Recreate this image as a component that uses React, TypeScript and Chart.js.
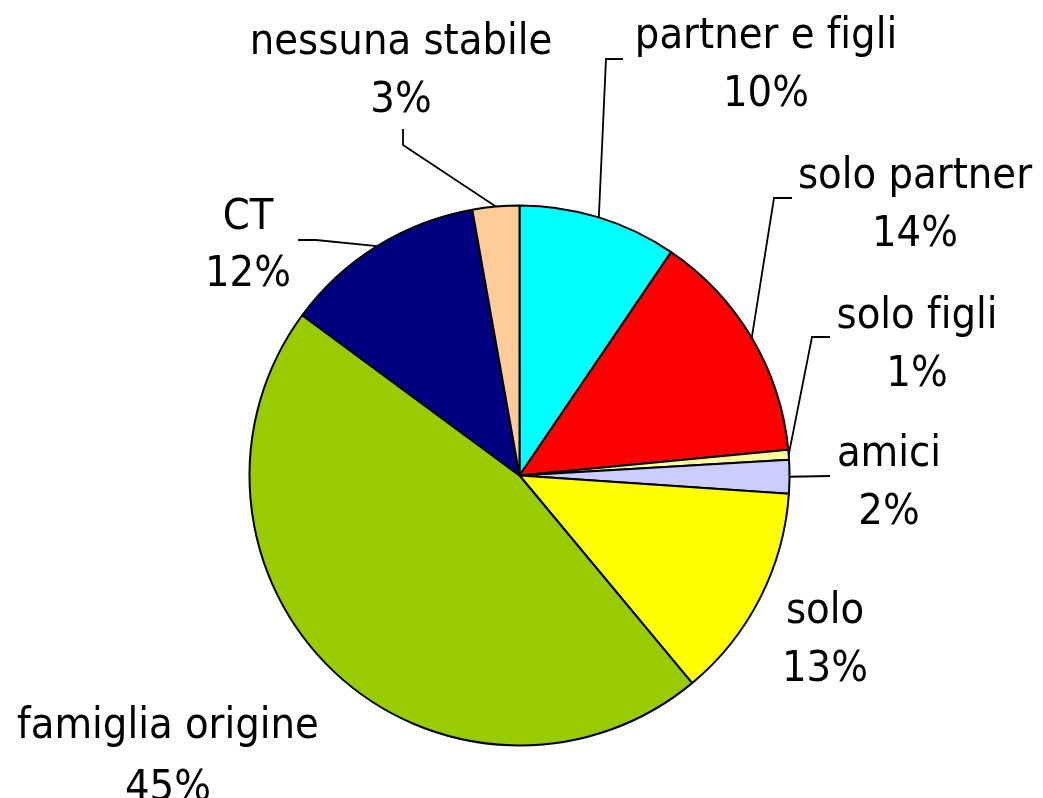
import React, { useEffect, useRef } from "react";
import { Chart, registerables } from "chart.js";

Chart.register(...registerables);

const categories = [
  "partner e figli",
  "solo partner",
  "solo figli",
  "amici",
  "solo",
  "famiglia origine",
  "CT",
  "nessuna stabile",
];
const shares = [9.5, 14.0, 0.6, 2.0, 12.9, 46.2, 12.1, 2.8];
const percentLabels = ["10%", "14%", "1%", "2%", "13%", "45%", "12%", "3%"];
const sliceColors = [
  "#00FFFF",
  "#FF0000",
  "#FFFF99",
  "#CCCCFF",
  "#FFFF00",
  "#99CC00",
  "#000080",
  "#FFCC99",
];

// label layout: centre x, first baseline, line gap, leader elbow points (towards slice)
const labelLayout: { x: number; y: number; gap: number; leader: number[][] | null }[] = [
  { x: 766, y: 48, gap: 58, leader: [[623, 59], [606, 59]] },
  { x: 915, y: 188, gap: 58, leader: [[792, 198], [774, 198]] },
  { x: 917, y: 328, gap: 58, leader: [[830, 337], [812, 337]] },
  { x: 889, y: 466, gap: 58, leader: [[830, 476]] },
  { x: 825, y: 623, gap: 58, leader: null },
  { x: 168, y: 738, gap: 62, leader: null },
  { x: 248, y: 229, gap: 57, leader: [[298, 240], [316, 240]] },
  { x: 401, y: 54, gap: 58, leader: [[403, 129], [403, 145]] },
];

const FONT = '43px "DejaVu Sans Condensed", "Liberation Sans", sans-serif';

const labelPlugin = {
  id: "outerLabels",
  afterDraw(chart: any) {
    const ctx = chart.ctx;
    const meta = chart.getDatasetMeta(0);
    ctx.save();
    meta.data.forEach((arc: any, i: number) => {
      const lay = labelLayout[i];
      const p = arc.getProps(["x", "y", "startAngle", "endAngle", "outerRadius"], true);
      const mid = (p.startAngle + p.endAngle) / 2;
      const ex = p.x + Math.cos(mid) * p.outerRadius;
      const ey = p.y + Math.sin(mid) * p.outerRadius;
      if (lay.leader) {
        ctx.beginPath();
        ctx.strokeStyle = "#000";
        ctx.lineWidth = 1.8;
        ctx.moveTo(lay.leader[0][0], lay.leader[0][1]);
        for (let k = 1; k < lay.leader.length; k++) ctx.lineTo(lay.leader[k][0], lay.leader[k][1]);
        ctx.lineTo(ex, ey);
        ctx.stroke();
      }
      ctx.fillStyle = "#000";
      ctx.font = FONT;
      ctx.textAlign = "center";
      ctx.textBaseline = "alphabetic";
      // zero-width non-joiner avoids the "fi" ligature, as in the reference
      ctx.fillText(categories[i].replace(/fi/g, "f\u200Ci"), lay.x, lay.y);
      ctx.fillText(percentLabels[i], lay.x, lay.y + lay.gap);
    });
    ctx.restore();
  },
};

export default function App() {
  const ref = useRef<HTMLCanvasElement | null>(null);
  useEffect(() => {
    if (!ref.current) return;
    const chart = new Chart(ref.current, {
      type: "pie",
      data: {
        labels: categories,
        datasets: [
          {
            data: shares,
            backgroundColor: sliceColors,
            borderColor: "#000",
            borderWidth: 2,
            radius: 270,
          } as any,
        ],
      },
      options: {
        responsive: false,
        animation: false,
        layout: { padding: { left: 0, right: 4, top: 153, bottom: 0 } },
        plugins: {
          legend: { display: false },
          tooltip: { enabled: false },
        },
      },
      plugins: [labelPlugin],
    });
    return () => chart.destroy();
  }, []);
  return (
    <div style={{ position: "fixed", left: 0, top: 0, width: 1043, height: 798, background: "#fff" }}>
      <canvas ref={ref} width={1043} height={798} style={{ width: 1043, height: 798 }} />
    </div>
  );
}
